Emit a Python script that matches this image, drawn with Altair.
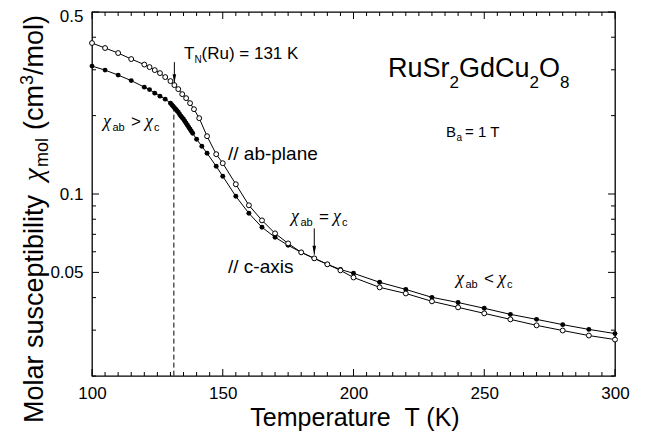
import altair as alt
import pandas as pd

# ---- data ----
T_ab = [100, 105, 110, 115, 120, 122, 124, 126, 128, 130, 131.5, 133, 134.5, 136, 137.5, 139,
        141, 144, 147.5, 150, 155, 160, 165, 170, 175, 180, 185, 190, 195, 200,
        210, 220, 230, 240, 250, 260, 270, 280, 290, 300]
chi_ab = [0.380, 0.3636, 0.3478, 0.3298, 0.3141, 0.3072, 0.2991, 0.2913, 0.2812, 0.2714,
          0.2619, 0.2528, 0.2418, 0.2334, 0.2233, 0.2117, 0.1955, 0.1667, 0.1422, 0.1313,
          0.1090, 0.0905, 0.0792, 0.0706, 0.0646, 0.0597, 0.0566, 0.0537, 0.0509, 0.0478,
          0.0438, 0.0415, 0.0387, 0.0367, 0.0348, 0.0330, 0.0313, 0.0299, 0.0286, 0.0276]

T_c = [100, 105, 110, 115, 120, 122, 124, 126, 128, 130,
       130.5, 131, 131.5, 132, 132.5, 133, 133.5, 134, 134.5, 135, 135.5, 136, 136.5, 137,
       137.5, 138, 138.5, 140, 142, 144, 147.5, 150, 155, 160, 165, 170, 175, 180, 185, 190,
       195, 200, 210, 220, 230, 240, 250, 260, 270, 280, 290, 300]
chi_c = [0.3099, 0.2991, 0.2862, 0.2726, 0.2573, 0.2517, 0.2440, 0.2376, 0.2313, 0.2233,
         0.2203, 0.2174, 0.2146, 0.2117, 0.2089, 0.2062, 0.2025, 0.1990, 0.1964, 0.1938,
         0.1904, 0.1871, 0.1838, 0.1805, 0.1774, 0.1743, 0.1712,
         0.1623, 0.1526, 0.1434, 0.1278, 0.1170, 0.0980, 0.0843, 0.0745, 0.0682, 0.0635,
         0.0597, 0.0566, 0.0537, 0.0513, 0.0496,
         0.0458, 0.0430, 0.0401, 0.0383, 0.0364, 0.0345, 0.0330, 0.0315, 0.0302, 0.0291]

x_major = [100, 150, 200, 250, 300]
x_minor = [t for t in range(105, 300, 5) if t % 50 != 0]
y_major = [0.05, 0.1, 0.5]
y_minor = [0.02, 0.03, 0.04, 0.06, 0.07, 0.08, 0.09, 0.2, 0.3, 0.4]

TN = 131.3
dash_chi = [0.2165, 0.02]
arrow_TN = [0.321, 0.2666]
T_eq = 185
arrow_eq = [0.0738, 0.0585]

# ---- layout ----
W, H = 523, 364
FONT = "Liberation Sans"
CHI_FONT = "Liberation Serif"
MAJ, MIN = 7, 4

xs = alt.Scale(domain=[100, 300], nice=False, zero=False)
ys = alt.Scale(type="log", domain=[0.02, 0.5], nice=False)
xaxis = alt.Axis(values=x_major, format="d", ticks=False, tickSize=0, domain=False, grid=False,
                 labelFontSize=17, labelFont=FONT, labelColor="black", labelPadding=9,
                 labelFlush=False, title=None)
yaxis = alt.Axis(values=y_major, format="~g", ticks=False, tickSize=0, domain=False, grid=False,
                 labelFontSize=17, labelFont=FONT, labelColor="black", labelPadding=9,
                 labelFlush=False, title=None,
                 labelOffset={"condition": {"test": "datum.value > 0.3", "value": 4}, "value": 0})


def X(f="T"):
    return alt.X(f"{f}:Q", scale=xs, axis=xaxis)


def Y(f="chi"):
    return alt.Y(f"{f}:Q", scale=ys, axis=yaxis)


df_ab = pd.DataFrame({"T": T_ab, "chi": chi_ab})
df_c = pd.DataFrame({"T": T_c, "chi": chi_c})

layers = []
layers.append(alt.Chart(df_c).mark_line(color="black", strokeWidth=1).encode(x=X(), y=Y()))
layers.append(alt.Chart(df_ab).mark_line(color="black", strokeWidth=1).encode(x=X(), y=Y()))
layers.append(alt.Chart(df_c).mark_circle(color="black", size=24, opacity=1).encode(x=X(), y=Y()))
layers.append(alt.Chart(df_ab).mark_circle(fill="white", stroke="black", strokeWidth=1,
                                           size=24, opacity=1).encode(x=X(), y=Y()))

# ticks (inward, on all four sides)
ymaj = pd.DataFrame({"chi": y_major})
ymin = pd.DataFrame({"chi": y_minor})
xmaj = pd.DataFrame({"T": x_major})
xmin = pd.DataFrame({"T": x_minor})
for d, L in ((ymaj, MAJ), (ymin, MIN)):
    layers.append(alt.Chart(d).mark_rule(color="black", strokeWidth=1).encode(
        y=Y(), x=alt.value(0), x2=alt.value(L)))
    layers.append(alt.Chart(d).mark_rule(color="black", strokeWidth=1).encode(
        y=Y(), x=alt.value(W), x2=alt.value(W - L)))
for d, L in ((xmaj, MAJ), (xmin, MIN)):
    layers.append(alt.Chart(d).mark_rule(color="black", strokeWidth=1).encode(
        x=X(), y=alt.value(H), y2=alt.value(H - L)))
    layers.append(alt.Chart(d).mark_rule(color="black", strokeWidth=1).encode(
        x=X(), y=alt.value(0), y2=alt.value(L)))

# dashed line at T_N
dd = pd.DataFrame({"T": [TN], "c1": [dash_chi[0]], "c2": [dash_chi[1]]})
layers.append(alt.Chart(dd).mark_rule(color="black", strokeWidth=1, strokeDash=[5, 3]).encode(
    x=X(), y=Y("c1"), y2="c2:Q"))

# arrows
HEAD = "M-0.45,-2.2L0.45,-2.2L0,0Z"
for t, (a, b) in ((TN + 0.2, arrow_TN), (T_eq, arrow_eq)):
    da = pd.DataFrame({"T": [t], "c1": [a], "c2": [b]})
    layers.append(alt.Chart(da).mark_rule(color="black", strokeWidth=1).encode(
        x=X(), y=Y("c1"), y2="c2:Q"))
    dh = pd.DataFrame({"T": [t], "chi": [b]})
    layers.append(alt.Chart(dh).mark_point(shape=HEAD, filled=True, color="black", size=64,
                                           opacity=1, strokeWidth=0).encode(x=X(), y=Y()))

# ---- text annotations ----
one = pd.DataFrame({"a": [0]})


def txt(s, x, y, size, dx=0, dy=0, angle=None, align="left"):
    kw = dict(text=s, fontSize=size, align=align, baseline="alphabetic",
              color="black", dx=dx, dy=dy)
    if s == "\u03c7":
        kw["font"] = CHI_FONT
        kw["fontStyle"] = "italic"
    else:
        kw["font"] = FONT
    if angle is not None:
        kw["angle"] = angle
    return alt.Chart(one).mark_text(**kw).encode(x=alt.value(x), y=alt.value(y))


def group(pieces, x, y, angle=None):
    return [txt(s, x, y, fs, dx, dy, angle) for (s, fs, dx, dy) in pieces]


# y-axis title (rotated)
layers += group([("Molar susceptibility", 27, 0, 0), ("\u03c7", 29, 242, 0),
                 ("mol", 18, 256, 5), ("(cm", 27, 293, 0), ("3", 18, 338, -10),
                 ("/mol)", 27, 348, 0)], -49, 411, angle=270)
# x-axis title
layers.append(txt("Temperature\u00a0\u00a0T (K)", 263, 414, 25, align="center"))

# compound formula
layers += group([("RuSr", 27, 0, 0), ("2", 17, 61.5, 11), ("GdCu", 27, 71, 0),
                 ("2", 17, 141.5, 11), ("O", 27, 151, 0), ("8", 17, 172, 11)], 296, 65)
# field
layers += group([("B", 15, 0, 0), ("a", 10, 10.5, 4), ("= 1 T", 15, 19, 0)], 354, 125)
# T_N label
layers += group([("T", 17, 0, 0), ("N", 10, 10.4, 4), ("(Ru) = 131 K", 17, 17.5, 0)], 92, 47)


def chi_rel(op):
    return [("\u03c7", 18, 0, 0), ("ab", 11, 9.5, 4), (op, 17, 28, 0),
            ("\u03c7", 18, 42, 0), ("c", 11, 51, 4)]


layers += group(chi_rel(">"), 11, 115)
layers += group(chi_rel("="), 199, 210)
layers += group(chi_rel("<"), 364, 272)

layers.append(txt("// ab-plane", 136, 148, 19))
layers.append(txt("// c-axis", 136, 261, 19))

chart = alt.layer(*layers).properties(
    width=W, height=H,
    autosize=alt.AutoSizeParams(type="none"),
    padding={"left": 84, "top": 4, "right": 34, "bottom": 63},
    background="white",
).configure_view(stroke="black", strokeWidth=1.3)

chart.save("out.html", embed_options={"renderer": "svg", "actions": False})
